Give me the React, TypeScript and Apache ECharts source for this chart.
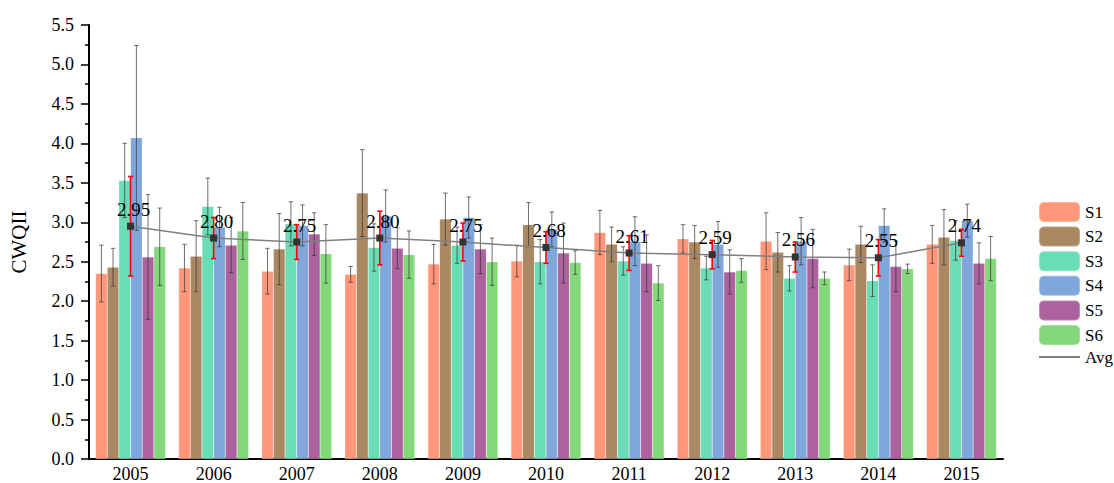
import React, { useEffect, useRef } from "react";
import * as echarts from "echarts";

const categories = ["2005", "2006", "2007", "2008", "2009", "2010", "2011", "2012", "2013", "2014", "2015"];
const seriesNames = ["S1", "S2", "S3", "S4", "S5", "S6"];

const s1 = [2.35, 2.42, 2.38, 2.34, 2.47, 2.51, 2.87, 2.79, 2.76, 2.46, 2.72];
const s2 = [2.43, 2.57, 2.66, 3.37, 3.04, 2.97, 2.72, 2.75, 2.62, 2.72, 2.81];
const s3 = [3.53, 3.20, 2.98, 2.68, 2.71, 2.50, 2.51, 2.42, 2.29, 2.26, 2.77];
const s4 = [4.07, 2.94, 2.96, 3.08, 3.06, 2.91, 2.76, 2.72, 2.76, 2.96, 3.02];
const s5 = [2.56, 2.71, 2.85, 2.67, 2.66, 2.61, 2.48, 2.37, 2.54, 2.44, 2.48];
const s6 = [2.69, 2.89, 2.60, 2.59, 2.50, 2.49, 2.23, 2.39, 2.29, 2.41, 2.54];

const s1Err = [0.36, 0.30, 0.29, 0.10, 0.25, 0.20, 0.28, 0.18, 0.36, 0.20, 0.24];
const s2Err = [0.24, 0.45, 0.45, 0.55, 0.33, 0.28, 0.22, 0.21, 0.25, 0.23, 0.35];
const s3Err = [0.47, 0.36, 0.28, 0.30, 0.23, 0.28, 0.18, 0.15, 0.16, 0.20, 0.25];
const s4Err = [1.17, 0.25, 0.26, 0.33, 0.26, 0.22, 0.31, 0.29, 0.30, 0.21, 0.21];
const s5Err = [0.79, 0.35, 0.27, 0.26, 0.31, 0.38, 0.36, 0.28, 0.37, 0.32, 0.26];
const s6Err = [0.49, 0.36, 0.37, 0.30, 0.30, 0.15, 0.22, 0.15, 0.08, 0.06, 0.28];

const avg = [2.95, 2.80, 2.75, 2.80, 2.75, 2.68, 2.61, 2.59, 2.56, 2.55, 2.74];
const avgErr = [0.63, 0.26, 0.22, 0.34, 0.24, 0.20, 0.22, 0.18, 0.19, 0.23, 0.17];

const yTicks = { min: 0, max: 5.5, interval: 0.5 };

const colors = ["#FF977B", "#A98862", "#6ADDB6", "#80A7DC", "#AC629C", "#83D87B"];
const FONT = "'Liberation Serif', 'DejaVu Serif', serif";
const CAT_GAP = 0.157;

export default function App() {
  const ref = useRef<HTMLDivElement>(null);
  useEffect(() => {
    if (!ref.current) return;
    const chart = echarts.init(ref.current, undefined, { renderer: "svg" });
    const values = [s1, s2, s3, s4, s5, s6];
    const errs = [s1Err, s2Err, s3Err, s4Err, s5Err, s6Err];
    const n = seriesNames.length;

    const barSeries = seriesNames.map((name, i) => ({
      name,
      type: "bar",
      data: values[i],
      barGap: "0%",
      barCategoryGap: CAT_GAP * 100 + "%",
      itemStyle: { color: colors[i], borderColor: "rgba(255,255,255,0.25)", borderWidth: 0.5 },
      z: 2,
    }));

    const errSeries = seriesNames.map((name, i) => ({
      name: name + "_err",
      type: "custom",
      z: 3,
      silent: true,
      data: values[i].map((v, k) => [k, v, errs[i][k]]),
      renderItem: (params: any, api: any) => {
        const idx = api.value(0);
        const v = api.value(1);
        const e = api.value(2);
        const c = api.coord([idx, v]);
        const band = api.size([1, 0])[0];
        const groupW = band * (1 - CAT_GAP);
        const barW = groupW / n;
        const x = c[0] - groupW / 2 + barW * (i + 0.5);
        const yt = api.coord([idx, v + e])[1];
        const yb = api.coord([idx, v - e])[1];
        const st = { stroke: "rgba(50,50,50,0.7)", lineWidth: 1 };
        const cap = 2.2;
        return {
          type: "group",
          children: [
            { type: "line", shape: { x1: x, y1: yt, x2: x, y2: yb }, style: st },
            { type: "line", shape: { x1: x - cap, y1: yt, x2: x + cap, y2: yt }, style: st },
            { type: "line", shape: { x1: x - cap, y1: yb, x2: x + cap, y2: yb }, style: st },
          ],
        };
      },
    }));

    const avgErrSeries = {
      name: "Avg_err",
      type: "custom",
      z: 4,
      silent: true,
      data: avg.map((v, k) => [k, v, avgErr[k]]),
      renderItem: (params: any, api: any) => {
        const idx = api.value(0);
        const v = api.value(1);
        const e = api.value(2);
        const x = api.coord([idx, v])[0];
        const yt = api.coord([idx, v + e])[1];
        const yb = api.coord([idx, v - e])[1];
        const st = { stroke: "#ff0000", lineWidth: 1.6 };
        const cap = 2.6;
        return {
          type: "group",
          children: [
            { type: "line", shape: { x1: x, y1: yt, x2: x, y2: yb }, style: st },
            { type: "line", shape: { x1: x - cap, y1: yt, x2: x + cap, y2: yt }, style: st },
            { type: "line", shape: { x1: x - cap, y1: yb, x2: x + cap, y2: yb }, style: st },
          ],
        };
      },
    };

    const avgSeries = {
      name: "Avg",
      type: "line",
      data: avg,
      z: 5,
      symbol: "rect",
      symbolSize: 7,
      itemStyle: { color: "#333333" },
      lineStyle: { color: "#808080", width: 1.5 },
      label: {
        show: true,
        position: "top",
        distance: 4,
        offset: [3, 0],
        color: "#000",
        fontFamily: FONT,
        fontSize: 19,
        formatter: (p: any) => Number(p.value).toFixed(2),
      },
    };

    chart.setOption({
      animation: false,
      backgroundColor: "#ffffff",
      textStyle: { fontFamily: FONT },
      grid: { left: 89, right: 111, top: 25, bottom: 22, containLabel: false },
      legend: {
        orient: "vertical",
        left: 1038,
        top: 201,
        padding: 0,
        itemWidth: 41,
        itemHeight: 20,
        itemGap: 2.6,
        textStyle: { fontFamily: FONT, fontSize: 17, color: "#000" },
        data: [...seriesNames, { name: "Avg", itemStyle: { opacity: 0 } }],
      },
      xAxis: {
        type: "category",
        data: categories,
        axisLine: { show: true, lineStyle: { color: "#000", width: 2 } },
        axisTick: { show: false },
        axisLabel: { color: "#000", fontSize: 18, fontFamily: FONT, margin: 6 },
        splitLine: { show: false },
      },
      yAxis: {
        type: "value",
        min: yTicks.min,
        max: yTicks.max,
        interval: yTicks.interval,
        name: "CWQII",
        nameLocation: "middle",
        nameGap: 60,
        nameRotate: 90,
        nameTextStyle: { color: "#000", fontSize: 21, fontFamily: FONT },
        axisLine: { show: true, lineStyle: { color: "#000", width: 2 } },
        axisTick: { show: true, length: 8, lineStyle: { color: "#000", width: 1.5 } },
        minorTick: { show: true, splitNumber: 2, length: 4, lineStyle: { color: "#000", width: 1.5 } },
        axisLabel: {
          color: "#000",
          fontSize: 18,
          fontFamily: FONT,
          margin: 15,
          formatter: (v: number) => v.toFixed(1),
        },
        splitLine: { show: false },
      },
      series: [...barSeries, ...errSeries, avgErrSeries, avgSeries],
    });
    return () => chart.dispose();
  }, []);
  return <div ref={ref} style={{ position: "fixed", left: 0, top: 0, width: 1114, height: 483 }} />;
}
